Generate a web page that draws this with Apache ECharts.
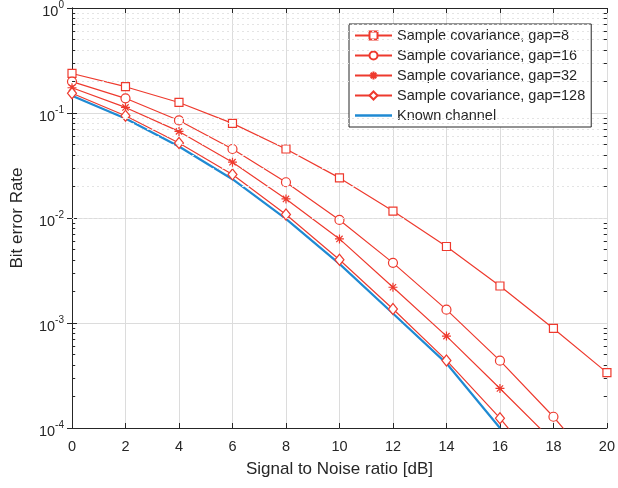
<!DOCTYPE html>
<html>
<head>
<meta charset="utf-8">
<script src="https://cdn.jsdelivr.net/npm/echarts@6/dist/echarts.min.js"></script>
<style>
	html, body { margin: 0; padding: 0; background: #fff; }
	#chart { width: 618px; height: 488px; }
</style>
</head>
<body>
<div id="chart"></div>
<script>
	// SNR points [dB]
	var snr = [0, 2, 4, 6, 8, 10, 12, 14, 16, 18, 20];

	// bit error rates
	var gap8 = [0.238, 0.178, 0.126, 0.0796, 0.0454, 0.0241, 0.01165, 0.00535, 0.00225, 0.000887, 0.000337];
	var gap16 = [0.199, 0.138, 0.0849, 0.0454, 0.0219, 0.00958, 0.00374, 0.00134, 0.000438, 0.000128, 0.000032];
	var gap32 = [0.174, 0.113, 0.0668, 0.034, 0.0152, 0.00632, 0.00219, 0.00075, 0.000238, 0.000074];
	var gap128 = [0.154, 0.094, 0.0518, 0.026, 0.0108, 0.0040, 0.00136, 0.00044, 0.000124, 0.00003];
	var known = [0.146, 0.0887, 0.048, 0.0234, 0.0098, 0.00366, 0.00123, 0.000413, 0.0001];

	var seriesNames = ['Sample covariance, gap=8', 'Sample covariance, gap=16',
		'Sample covariance, gap=32', 'Sample covariance, gap=128', 'Known channel'];

	// log minor grid: 2..9 in each decade
	var decades = [1e-4, 1e-3, 1e-2, 1e-1];
	var minorSteps = [2, 3, 4, 5, 6, 7, 8, 9];

	var red = '#ee3a2e';
	var blue = '#1f8ad3';
	var ink = '#262626';
	var font = 'Liberation Sans, Arial, Helvetica, sans-serif';

	function pairs(ys)
	{
		var out = [];
		for (var i = 0; i < ys.length; i++)
			out.push([snr[i], ys[i]]);
		return out;
	}

	var minorValues = [];
	decades.forEach(function(d) { minorSteps.forEach(function(m) { minorValues.push(d * m); }); });

	var minorGrid = minorValues.map(function(v) { return { yAxis: v }; });
	var minorTicks = [];
	minorValues.forEach(function(v)
	{
		minorTicks.push([{ coord: [0, v] }, { coord: [0.12, v] }]);
		minorTicks.push([{ coord: [19.88, v] }, { coord: [20, v] }]);
	});

	function redSeries(name, ys, symbol, size)
	{
		return {
			name: name,
			type: 'line',
			data: pairs(ys),
			symbol: symbol,
			symbolSize: size,
			showAllSymbol: true,
			clip: true,
			z: 3,
			lineStyle: { color: red, width: 1.2 },
			itemStyle: { color: '#fff', borderColor: red, borderWidth: 1.2 }
		};
	}

	var legendData = seriesNames.slice(0, 4).map(function(n) { return { name: n }; });
	legendData.push({
		name: seriesNames[4],
		icon: 'path://M0,0L37,0L37,2.6L0,2.6Z',
		itemStyle: { color: blue, borderWidth: 0 }
	});

	var chart = echarts.init(document.getElementById('chart'), null, { renderer: 'canvas' });

	var options =
	{
		animation: false,
		backgroundColor: '#fff',
		textStyle: { fontFamily: font },
		grid: { left: 72, right: 10, top: 7, bottom: 60 },
		legend: {
			left: 349,
			top: 24,
			orient: 'vertical',
			data: legendData,
			itemWidth: 37,
			itemHeight: 10,
			itemGap: 5,
			padding: [4, 6, 4, 5],
			backgroundColor: '#fff',
			borderColor: ink,
			borderWidth: 1,
			borderRadius: 0,
			textStyle: { fontSize: 14.5, color: ink, fontFamily: font }
		},
		xAxis: [
			{
				type: 'value',
				min: 0,
				max: 20,
				interval: 2,
				name: 'Signal to Noise ratio [dB]',
				nameLocation: 'middle',
				nameGap: 33,
				nameTextStyle: { fontSize: 17, color: ink, fontFamily: font },
				axisLine: { lineStyle: { color: ink } },
				axisTick: { inside: true, length: 5, lineStyle: { color: ink } },
				axisLabel: { fontSize: 14.5, color: ink, margin: 11, fontFamily: font },
				splitLine: { show: true, lineStyle: { color: '#dcdcdc' } }
			},
			{
				type: 'value',
				position: 'top',
				min: 0,
				max: 20,
				interval: 2,
				axisLine: { show: true, lineStyle: { color: ink } },
				axisTick: { inside: true, length: 5, lineStyle: { color: ink } },
				axisLabel: { show: false },
				splitLine: { show: false }
			}
		],
		yAxis: [
			{
				type: 'log',
				logBase: 10,
				min: 1e-4,
				max: 1,
				name: 'Bit error Rate',
				nameLocation: 'middle',
				nameGap: 46,
				nameTextStyle: { fontSize: 17, color: ink, fontFamily: font },
				axisLine: { show: true, lineStyle: { color: ink } },
				axisTick: { inside: true, length: 5, lineStyle: { color: ink } },
				axisLabel: {
					margin: 8,
					color: ink,
					formatter: function(v)
					{
						var e = Math.round(Math.log(v) / Math.LN10);
						return '{b|10}{s|' + e + '}';
					},
					rich: {
						b: { fontSize: 14.5, color: ink, fontFamily: font, padding: [8, 0, 0, 0] },
						s: { fontSize: 10, color: ink, fontFamily: font, padding: [0, 0, 6, 0] }
					}
				},
				splitLine: { show: true, lineStyle: { color: '#dcdcdc' } }
			},
			{
				type: 'log',
				logBase: 10,
				min: 1e-4,
				max: 1,
				position: 'right',
				axisLine: { show: true, lineStyle: { color: ink } },
				axisTick: { inside: true, length: 5, lineStyle: { color: ink } },
				axisLabel: { show: false },
				splitLine: { show: false }
			}
		],
		series: [
			{
				name: 'minor',
				type: 'line',
				data: [],
				silent: true,
				z: 1,
				markLine: {
					silent: true,
					symbol: 'none',
					label: { show: false },
					lineStyle: { color: '#e4e4e4', type: [2, 3], width: 1 },
					data: minorGrid
				}
			},
			{
				name: 'minorTicks',
				type: 'line',
				data: [],
				silent: true,
				z: 1,
				markLine: {
					silent: true,
					symbol: 'none',
					label: { show: false },
					lineStyle: { color: ink, type: 'solid', width: 1 },
					data: minorTicks
				}
			},
			redSeries(seriesNames[0], gap8, 'rect', 8),
			redSeries(seriesNames[1], gap16, 'circle', 9),
			redSeries(seriesNames[2], gap32, 'path://M5,0L5,10M0,5L10,5M1.5,1.5L8.5,8.5M1.5,8.5L8.5,1.5', 9),
			redSeries(seriesNames[3], gap128, 'path://M5,0L10,6L5,12L0,6Z', [9, 11]),
			{
				name: seriesNames[4],
				type: 'line',
				data: pairs(known),
				symbol: 'none',
				clip: true,
				z: 2,
				lineStyle: { color: blue, width: 2.2 },
				itemStyle: { color: blue }
			}
		]
	};

	chart.setOption(options);
</script>
</body>
</html>
